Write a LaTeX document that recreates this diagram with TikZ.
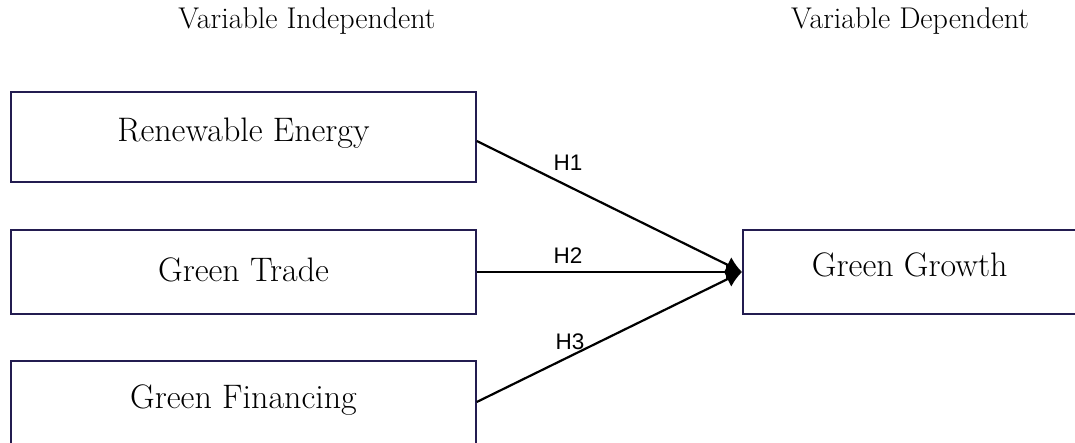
\documentclass[tikz,border=0pt]{standalone}
\usepackage{fontspec}
\newfontfamily\hfont{Liberation Sans}
\usetikzlibrary{arrows.meta}
\definecolor{boxline}{RGB}{35,28,80}
\tikzset{
  varbox/.style={draw=boxline, line width=1.5pt, rectangle, inner sep=0pt,
    minimum width=465pt, font=\fontsize{34}{40}\selectfont},
  hdr/.style={anchor=base, inner sep=0pt, font=\fontsize{30}{36}\selectfont},
  hyp/.style={inner sep=0pt, font=\hfont\fontsize{22.5}{26}\selectfont},
  conn/.style={line width=2.2pt, -{Latex[length=16pt,width=17pt]}}
}
\begin{document}
\begin{tikzpicture}[x=1pt,y=1pt]
\useasboundingbox (0,0) rectangle (1075,443);
\clip (0,0) rectangle (1075,443);
% headers
\node[hdr] (hi) at (307,414.5) {Variable Independent};
\node[hdr] (hd) at (910,414.5) {Variable Dependent};
% boxes (y flipped: 443 - y)
\node[varbox, minimum height=90pt, text height=20pt, text depth=10pt] (re) at (243.5,306) {Renewable Energy};
\node[varbox, minimum height=84pt, text height=25pt, text depth=5pt] (gt) at (243.5,171) {Green Trade};
\node[varbox, minimum height=100pt, text height=8pt, text depth=12pt] (gf) at (243.5,32) {Green Financing};
\node[varbox, minimum width=400pt, minimum height=84pt, text height=20pt, text depth=10pt, anchor=west] (gg) at (742,171) {\hspace*{-66pt}Green Growth};
% connectors
\draw[conn] ([yshift=-4pt]re.east) -- (gg.west);
\draw[conn] (gt.east) -- (gg.west);
\draw[conn] ([yshift=9pt]gf.east) -- (gg.west);
% labels
\node[hyp] (h1) at (568,280) {H1};
\node[hyp] (h2) at (568,187) {H2};
\node[hyp] (h3) at (570,101) {H3};
\end{tikzpicture}
\end{document}
